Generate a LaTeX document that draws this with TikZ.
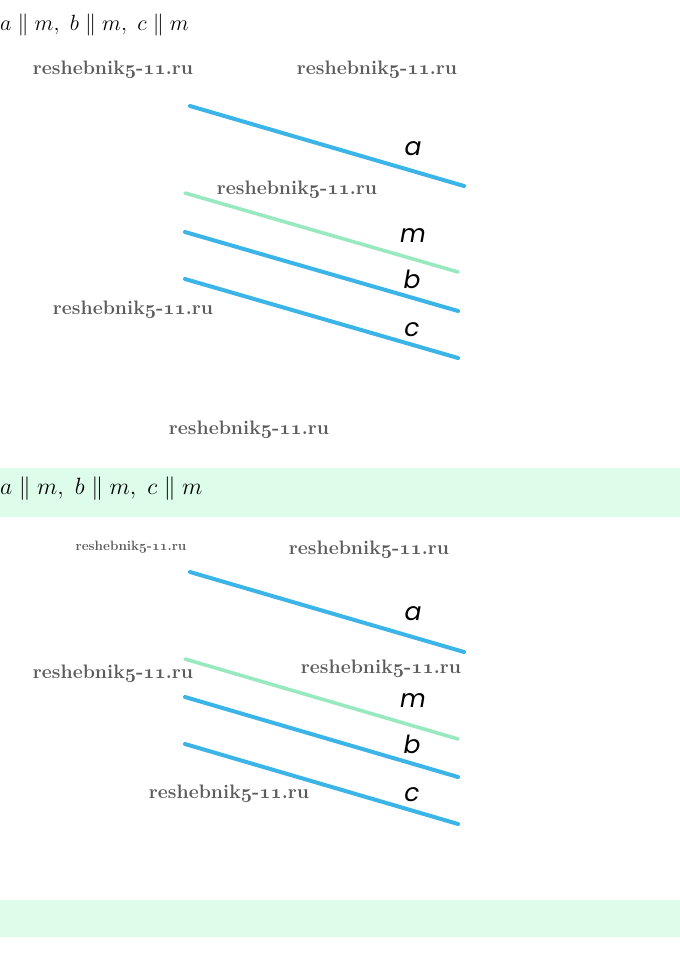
\RequirePackage{fix-cm}
\documentclass[tikz,border=0pt]{standalone}
\usepackage{fontspec}
\newfontfamily\labelfont{Poppins}
\definecolor{lineblue}{HTML}{3BB4E8}
\definecolor{linegreen}{HTML}{98E9C0}
\definecolor{bandgreen}{HTML}{DDFDEA}
\definecolor{wmgray}{HTML}{5C5C5C}
\newcommand{\osdigits}[1]{{\fontencoding{OML}\fontfamily{cmm}\fontseries{b}\fontshape{it}\selectfont #1}}
\newcommand{\wmtext}{reshebnik\osdigits{5}-\osdigits{11}.ru}
\begin{document}
\begin{tikzpicture}[x=1pt, y=-1pt, line/.style = {draw=lineblue, line width=4pt, line cap=round},
					mline/.style = {draw=linegreen, line width=3.6pt, line cap=round},
					letter/.style = {inner sep=0pt, font=\labelfont\itshape\fontsize{25}{28}\selectfont},
					wmark/.style = {inner sep=0pt, text=wmgray, font=\bfseries\fontsize{19.5}{22}\selectfont},
					title/.style = {inner sep=0pt, anchor=west}]
	\useasboundingbox (0,0) rectangle (680,970);
	\fill[bandgreen] (0,468) rectangle (680,517);
	\fill[bandgreen] (0,900) rectangle (680,937);
	
	% top figure
	\node[title, font=\fontsize{22}{26}\selectfont] (t1) at (0,25) {$a \parallel m,\ b \parallel m,\ c \parallel m$};
	\coordinate (a1) at (190,106); \coordinate (a2) at (464,186);
	\coordinate (m1) at (185,193); \coordinate (m2) at (458,272);
	\coordinate (b1) at (185,232); \coordinate (b2) at (458,311);
	\coordinate (c1) at (185,279); \coordinate (c2) at (458,358);
	\draw[line] (a1) -- (a2);
	\draw[mline] (m1) -- (m2);
	\draw[line] (b1) -- (b2);
	\draw[line] (c1) -- (c2);
	\node[letter] (la) at (413,149) {a};
	\node[letter] (lm) at (413,236) {m};
	\node[letter] (lb) at (412,279) {b};
	\node[letter] (lc) at (412,330) {c};
	\node[wmark] (w1) at (113,70) {\wmtext};
	\node[wmark] (w2) at (377,70) {\wmtext};
	\node[wmark] (w3) at (297,190) {\wmtext};
	\node[wmark] (w4) at (133,310) {\wmtext};
	\node[wmark] (w5) at (249,430) {\wmtext};
	
	% bottom figure
	\node[title, font=\fontsize{23.6}{28}\selectfont] (t2) at (0,489) {$a \parallel m,\ b \parallel m,\ c \parallel m$};
	\coordinate (a3) at (190,572); \coordinate (a4) at (464,652);
	\coordinate (m3) at (185,659); \coordinate (m4) at (458,739);
	\coordinate (b3) at (185,697); \coordinate (b4) at (458,777);
	\coordinate (c3) at (185,744); \coordinate (c4) at (458,824);
	\draw[line] (a3) -- (a4);
	\draw[mline] (m3) -- (m4);
	\draw[line] (b3) -- (b4);
	\draw[line] (c3) -- (c4);
	\node[letter] (la2) at (413,614) {a};
	\node[letter] (lm2) at (413,701) {m};
	\node[letter] (lb2) at (412,744) {b};
	\node[letter] (lc2) at (412,795) {c};
	\node[wmark, font=\bfseries\fontsize{13.5}{16}\selectfont] (w6) at (131,547) {\wmtext};
	\node[wmark] (w7) at (369,550) {\wmtext};
	\node[wmark] (w8) at (113,674) {\wmtext};
	\node[wmark] (w9) at (381,669) {\wmtext};
	\node[wmark] (w10) at (229,794) {\wmtext};
\end{tikzpicture}
\end{document}
